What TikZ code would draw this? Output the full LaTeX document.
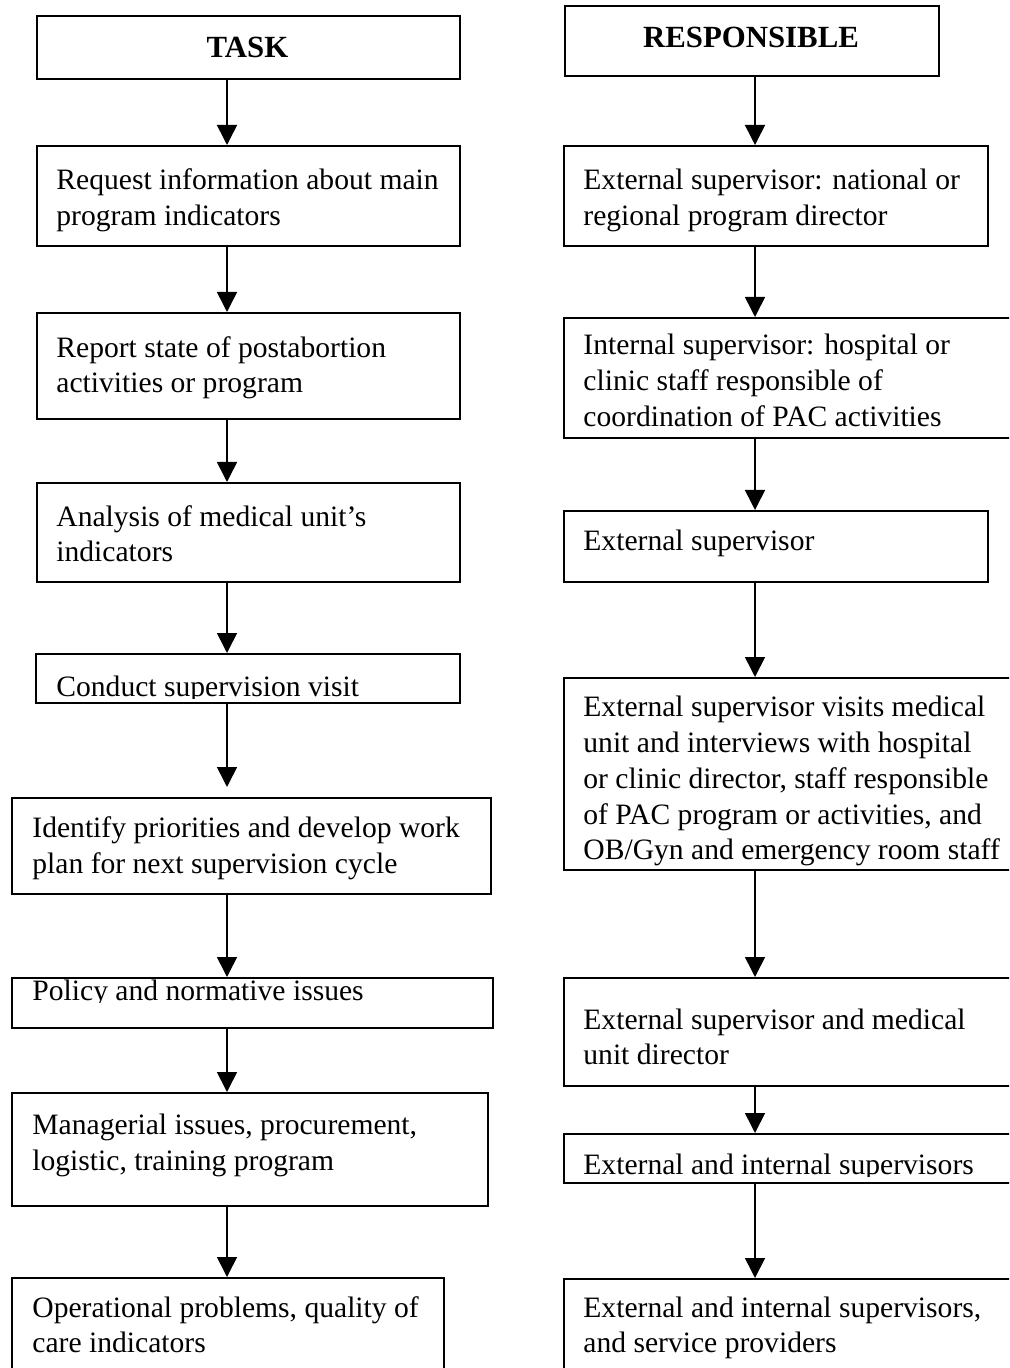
\documentclass[tikz,border=0pt]{standalone}
\usepackage{fontspec}
\setmainfont{Liberation Serif}
\usetikzlibrary{arrows.meta}
\begin{document}
\begin{tikzpicture}[x=0.5pt,y=-0.5pt,
  box/.style={draw, line width=1pt, inner sep=0pt, anchor=north west},
  txt/.style={inner sep=0pt, anchor=base west, font=\fontsize{14.8pt}{17.8pt}\selectfont},
  head/.style={inner sep=0pt, anchor=base, font=\fontsize{15.4pt}{18pt}\selectfont\bfseries},
  arr/.style={line width=0.8pt, -{Triangle[width=10pt,length=10pt]}}]
\useasboundingbox (0,0) rectangle (1009,1368);
\clip (0,0) rectangle (1009,1368);
\coordinate (xl) at (227,0);
\coordinate (xr) at (755,0);
% left column boxes
\node[box, minimum width=211.5pt, minimum height=31.5pt] (T0) at (36,15) {};
\node[box, minimum width=211.5pt, minimum height=50pt] (L1) at (36,145) {};
\node[box, minimum width=211.5pt, minimum height=53pt] (L2) at (36,312) {};
\node[box, minimum width=211.5pt, minimum height=49.5pt] (L3) at (36,482) {};
\node[box, minimum width=212pt, minimum height=24.5pt] (L4) at (35,653) {};
\node[box, minimum width=239.5pt, minimum height=48pt] (L5) at (11,797) {};
\node[box, minimum width=240.5pt, minimum height=25pt] (L6) at (11,977) {};
\node[box, minimum width=238pt, minimum height=56.5pt] (L7) at (11,1092) {};
\node[box, minimum width=216pt, minimum height=55pt] (L8) at (11,1277) {};
% right column boxes
\node[box, minimum width=187pt, minimum height=35pt] (R0) at (564,5) {};
\node[box, minimum width=212pt, minimum height=50pt] (R1) at (563,145) {};
\node[box, minimum width=230pt, minimum height=60pt] (R2) at (563,317) {};
\node[box, minimum width=212pt, minimum height=35.5pt] (R3) at (563,510) {};
\node[box, minimum width=230pt, minimum height=96pt] (R4) at (563,677) {};
\node[box, minimum width=230pt, minimum height=54pt] (R5) at (563,977) {};
\node[box, minimum width=230pt, minimum height=24.5pt] (R6) at (563,1133) {};
\node[box, minimum width=230pt, minimum height=55pt] (R7) at (563,1278) {};
% headings
\node[head] (T0t) at (247.5,58) {TASK};
\node[head] (R0t) at (751,48) {RESPONSIBLE};
% left texts
\node[txt] (L1a) at (56,190) {Request information about main};
\node[txt] (L1b) at (56,226) {program indicators};
\node[txt] (L2a) at (56,358) {Report state of postabortion};
\node[txt] (L2b) at (56,393) {activities or program};
\node[txt] (L3a) at (56,526) {Analysis of medical unit’s};
\node[txt] (L3b) at (56,561) {indicators};
\begin{scope}
\clip (35,653) rectangle (459,698);
\node[txt] (L4a) at (56,696) {Conduct supervision visit};
\end{scope}
\node[txt] (L5a) at (32,837) {Identify priorities and develop work};
\node[txt] (L5b) at (32,873) {plan for next supervision cycle};
\begin{scope}
\clip (11,977) rectangle (492,1002);
\node[txt] (L6a) at (32,1000) {Policy and normative issues};
\end{scope}
\node[txt] (L7a) at (32,1134) {Managerial issues, procurement,};
\node[txt] (L7b) at (32,1170) {logistic, training program};
\node[txt] (L8a) at (32,1317) {Operational problems, quality of};
\node[txt] (L8b) at (32,1352) {care indicators};
% right texts
\node[txt] (R1a) at (583,190) {External supervisor: national or};
\node[txt] (R1b) at (583,226) {regional program director};
\node[txt] (R2a) at (583,355) {Internal supervisor: hospital or};
\node[txt] (R2b) at (583,391) {clinic staff responsible of};
\node[txt] (R2c) at (583,427) {coordination of PAC activities};
\node[txt] (R3a) at (583,550) {External supervisor};
\node[txt] (R4a) at (583,716) {External supervisor visits medical};
\node[txt] (R4b) at (583,752) {unit and interviews with hospital};
\node[txt] (R4c) at (583,788) {or clinic director, staff responsible};
\node[txt] (R4d) at (583,824) {of PAC program or activities, and};
\node[txt] (R4e) at (583,859) {OB/Gyn and emergency room staff};
\node[txt] (R5a) at (583,1029) {External supervisor and medical};
\node[txt] (R5b) at (583,1064) {unit director};
\begin{scope}
\clip (563,1133) rectangle (1009,1176);
\node[txt] (R6a) at (583,1174) {External and internal supervisors};
\end{scope}
\node[txt] (R7a) at (583,1317) {External and internal supervisors,};
\node[txt] (R7b) at (583,1352) {and service providers};
% connectors
\coordinate (L5in) at (227,787);
\draw[arr] (T0.south -| xl) -- (L1.north -| xl);
\draw[arr] (L1.south -| xl) -- (L2.north -| xl);
\draw[arr] (L2.south -| xl) -- (L3.north -| xl);
\draw[arr] (L3.south -| xl) -- (L4.north -| xl);
\draw[arr] (L4.south -| xl) -- (L5in);
\draw[arr] (L5.south -| xl) -- (L6.north -| xl);
\draw[arr] (L6.south -| xl) -- (L7.north -| xl);
\draw[arr] (L7.south -| xl) -- (L8.north -| xl);
\draw[arr] (R0.south -| xr) -- (R1.north -| xr);
\draw[arr] (R1.south -| xr) -- (R2.north -| xr);
\draw[arr] (R2.south -| xr) -- (R3.north -| xr);
\draw[arr] (R3.south -| xr) -- (R4.north -| xr);
\draw[arr] (R4.south -| xr) -- (R5.north -| xr);
\draw[arr] (R5.south -| xr) -- (R6.north -| xr);
\draw[arr] (R6.south -| xr) -- (R7.north -| xr);
\end{tikzpicture}
\end{document}
